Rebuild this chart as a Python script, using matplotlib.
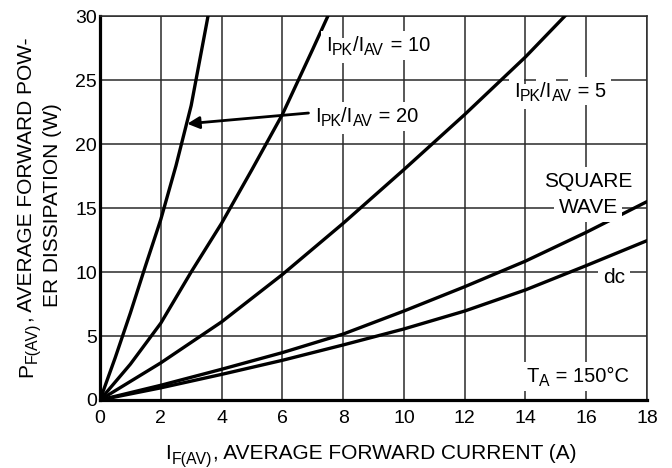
import matplotlib
matplotlib.use("Agg")
import numpy as np
import matplotlib.pyplot as plt
from matplotlib import font_manager
from matplotlib.ft2font import FT2Font
from matplotlib.transforms import offset_copy

FAMILY = 'Liberation Sans'
plt.rcParams['font.family'] = [FAMILY, 'DejaVu Sans']

# Data
x_r20 = [0, 0.5, 1.0, 1.5, 2.0, 2.5, 3.0, 3.5, 3.555]
y_r20 = [0, 3.3, 6.8, 10.5, 14.1, 18.3, 23.0, 29.3, 30.0]

x_r10 = [0, 1, 2, 3, 4, 5, 6, 7, 7.5]
y_r10 = [0, 2.8, 6.0, 10.0, 13.8, 18.0, 22.3, 27.4, 30.0]

x_r5 = [0, 2, 4, 6, 8, 10, 12, 14, 15.3]
y_r5 = [0, 2.9, 6.1, 9.8, 13.8, 18.0, 22.3, 26.8, 30.0]

x_sq = [0, 2, 4, 6, 8, 10, 12, 14, 16, 18]
y_sq = [0, 1.15, 2.4, 3.7, 5.15, 6.95, 8.85, 10.85, 13.1, 15.5]

x_dc = [0, 2, 4, 6, 8, 10, 12, 14, 16, 18]
y_dc = [0, 0.95, 2.0, 3.1, 4.3, 5.55, 6.95, 8.6, 10.5, 12.45]

x_ticks = [0, 2, 4, 6, 8, 10, 12, 14, 16, 18]
y_ticks = [0, 5, 10, 15, 20, 25, 30]

fig = plt.figure(figsize=(6.72, 4.68), dpi=100)
ax = fig.add_axes([0.1488, 0.1453, 0.814, 0.8205])

_font = FT2Font(font_manager.findfont(font_manager.FontProperties(family=FAMILY)))


def adv_pt(s, size):
    _font.set_size(size, 72)
    return sum(_font.load_char(ord(c)).linearHoriAdvance / 65536 for c in s)


def rich_text(target, x, y, parts, size, transform, rotation=0, ha='left',
              sub_scale=0.78, sub_drop=0.2, bbox=None, zorder=4):
    sizes = [size * (sub_scale if sub else 1) for _, sub in parts]
    widths = [adv_pt(s, sz) for (s, _), sz in zip(parts, sizes)]
    total = sum(widths)
    start = {'left': 0, 'center': -total / 2, 'right': -total}[ha]
    th = np.deg2rad(rotation)
    ux, uy = np.cos(th), np.sin(th)
    nx, ny = -np.sin(th), np.cos(th)
    passes = [(bbox, 'none', zorder), (None, 'black', zorder + 0.1)] if bbox else [(None, 'black', zorder)]
    for bb, col, z in passes:
        pos = start
        for (s, sub), sz, w in zip(parts, sizes, widths):
            d = -sub_drop * size if sub else 0
            tr = offset_copy(transform, fig=fig, x=pos * ux + d * nx, y=pos * uy + d * ny, units='points')
            target.text(x, y, s, transform=tr, fontsize=sz, rotation=rotation, color=col,
                        rotation_mode='anchor', ha='left', va='baseline', bbox=bb, zorder=z)
            pos += w


lw = 2.4
for xs, ys in [(x_r20, y_r20), (x_r10, y_r10), (x_r5, y_r5), (x_sq, y_sq), (x_dc, y_dc)]:
    ax.plot(xs, ys, color='black', lw=lw, solid_joinstyle='round', zorder=3)

ax.set_xlim(0, 18)
ax.set_ylim(0, 30)
ax.set_xticks(x_ticks)
ax.set_yticks(y_ticks)
ax.tick_params(labelsize=14, length=0)
ax.tick_params(axis='x', pad=7)
ax.tick_params(axis='y', pad=2)
ax.grid(True, color='#2a2a2a', lw=1.1, zorder=1)
for s in ['top', 'right']:
    ax.spines[s].set_linewidth(1.1)
    ax.spines[s].set_color('#2a2a2a')
for s in ['left', 'bottom']:
    ax.spines[s].set_linewidth(2.3)

# axis labels (rich text with larger subscripts)
lab = 15
rich_text(fig, 372.5 / 672, (468 - 459) / 468,
          [('I', False), ('F(AV)', True), (', AVERAGE FORWARD CURRENT (A)', False)],
          lab, fig.transFigure, ha='center', sub_scale=0.76, sub_drop=0.22)
rich_text(fig, 32 / 672, (468 - 205) / 468,
          [('P', False), ('F(AV)', True), (', AVERAGE FORWARD POW-', False)],
          lab, fig.transFigure, rotation=90, ha='center', sub_scale=0.76, sub_drop=0.22)
rich_text(fig, 58 / 672, (468 - 204) / 468,
          [('ER DISSIPATION (W)', False)],
          lab, fig.transFigure, rotation=90, ha='center')

# in-plot labels
bbox = dict(facecolor='white', edgecolor='none', pad=3.5)
fs = 14.5
pk = [('I', False), ('PK', True), ('/I', False), ('AV', True)]
rich_text(ax, 7.44, 27.27, pk + [(' = 10', False)], fs, ax.transData, bbox=bbox)
rich_text(ax, 13.62, 23.70, pk + [(' = 5', False)], fs, ax.transData, bbox=bbox)
rich_text(ax, 7.07, 21.74, pk + [(' = 20', False)], fs, ax.transData, bbox=bbox)
rich_text(ax, 14.05, 1.43, [('T', False), ('A', True), (' = 150°C', False)], fs, ax.transData, bbox=bbox)

ax.text(16.06, 16.66, 'SQUARE', fontsize=15, ha='center', va='baseline', bbox=bbox, zorder=4)
ax.text(16.06, 14.63, 'WAVE', fontsize=15, ha='center', va='baseline', bbox=bbox, zorder=4)
ax.text(16.91, 9.12, 'dc', fontsize=15, ha='center', va='baseline', bbox=bbox, zorder=4)

ax.annotate('', xy=(2.87, 21.58), xytext=(6.86, 22.42), zorder=5,
            arrowprops=dict(arrowstyle='-|>', color='black', lw=2.0, mutation_scale=18,
                            shrinkA=0, shrinkB=0))

fig.savefig('out.png', dpi=100)
